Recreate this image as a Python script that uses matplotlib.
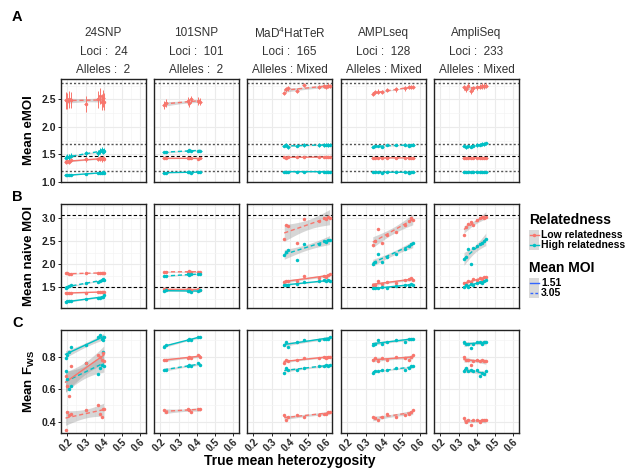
import numpy as np
import matplotlib
matplotlib.use("Agg")
import matplotlib.pyplot as plt
from matplotlib.patches import Rectangle
from matplotlib.lines import Line2D

plt.rcParams['font.family'] = ['Liberation Sans', 'DejaVu Sans']
plt.rcParams['mathtext.fontset'] = 'custom'
plt.rcParams['mathtext.rm'] = 'Liberation Sans'
plt.rcParams['mathtext.bf'] = 'Liberation Sans:bold'

# ---------------- data ----------------
panel_names = ["24SNP", "101SNP", "MaD$^4$HatTeR", "AMPLseq", "AmpliSeq"]
panel_loci = ["24", "101", "165", "128", "233"]
panel_alleles = ["2", "2", "Mixed", "Mixed", "Mixed"]
relatedness_labels = ["Low relatedness", "High relatedness"]
moi_labels = ["1.51", "3.05"]

het_24snp = [0.19, 0.20, 0.21, 0.22, 0.30, 0.37, 0.38, 0.39, 0.395, 0.40]
het_101snp = [0.22, 0.23, 0.35, 0.36, 0.37, 0.41, 0.42]
het_mad = [0.37, 0.38, 0.39, 0.44, 0.48, 0.56, 0.59, 0.60, 0.61, 0.62]
het_amplseq = [0.34, 0.35, 0.37, 0.39, 0.42, 0.47, 0.52, 0.54, 0.55, 0.56]
het_ampliseq = [0.33, 0.34, 0.35, 0.37, 0.38, 0.40, 0.42, 0.43, 0.44, 0.45]

# Row A: mean eMOI
emoi_24snp = dict(low151=[1.37, 1.38, 1.36, 1.40, 1.41, 1.42, 1.43, 1.41, 1.44, 1.42],
                  high151=[1.12, 1.12, 1.13, 1.13, 1.14, 1.16, 1.17, 1.16, 1.18, 1.17],
                  low305=[2.48, 2.47, 2.50, 2.49, 2.42, 2.50, 2.56, 2.45, 2.52, 2.46],
                  high305=[1.44, 1.46, 1.45, 1.48, 1.52, 1.53, 1.56, 1.59, 1.55, 1.57])
emoi_101snp = dict(low151=[1.43, 1.43, 1.43, 1.44, 1.43, 1.42, 1.43],
                   high151=[1.17, 1.17, 1.18, 1.18, 1.17, 1.18, 1.18],
                   low305=[2.40, 2.43, 2.47, 2.44, 2.50, 2.47, 2.46],
                   high305=[1.54, 1.54, 1.57, 1.58, 1.56, 1.57, 1.57])
emoi_mad = dict(low151=[1.45, 1.44, 1.45, 1.45, 1.46, 1.45, 1.45, 1.46, 1.45, 1.45],
                high151=[1.19, 1.19, 1.18, 1.19, 1.19, 1.19, 1.19, 1.19, 1.18, 1.19],
                low305=[2.62, 2.68, 2.70, 2.66, 2.76, 2.72, 2.74, 2.73, 2.75, 2.74],
                high305=[1.66, 1.67, 1.63, 1.66, 1.67, 1.67, 1.67, 1.68, 1.67, 1.68])
emoi_amplseq = dict(low151=[1.44, 1.44, 1.43, 1.44, 1.44, 1.44, 1.44, 1.43, 1.44, 1.44],
                    high151=[1.18, 1.18, 1.18, 1.17, 1.18, 1.18, 1.18, 1.17, 1.18, 1.18],
                    low305=[2.60, 2.63, 2.64, 2.63, 2.67, 2.68, 2.70, 2.72, 2.73, 2.72],
                    high305=[1.64, 1.65, 1.66, 1.64, 1.67, 1.67, 1.68, 1.66, 1.67, 1.68])
emoi_ampliseq = dict(low151=[1.43, 1.44, 1.44, 1.44, 1.43, 1.44, 1.44, 1.44, 1.44, 1.44],
                     high151=[1.18, 1.18, 1.18, 1.18, 1.18, 1.18, 1.19, 1.18, 1.18, 1.18],
                     low305=[2.72, 2.68, 2.75, 2.65, 2.70, 2.72, 2.73, 2.74, 2.74, 2.75],
                     high305=[1.66, 1.63, 1.65, 1.64, 1.66, 1.67, 1.68, 1.69, 1.69, 1.70])
# error bar half-widths (eMOI sd) per series
emoi_sd_24snp = dict(low151=0.04, high151=0.02, low305=0.15, high305=0.05)
emoi_sd_101snp = dict(low151=0.02, high151=0.01, low305=0.07, high305=0.02)
emoi_sd_mad = dict(low151=0.02, high151=0.01, low305=0.04, high305=0.03)
emoi_sd_amplseq = dict(low151=0.02, high151=0.01, low305=0.04, high305=0.02)
emoi_sd_ampliseq = dict(low151=0.02, high151=0.01, low305=0.05, high305=0.03)
het_sd = 0.01
emoi_truth_dotted = [1.20, 1.69, 2.80]
emoi_truth_dashed = [1.47]

# Row B: mean naive MOI
nmoi_24snp = dict(low151=[1.38, 1.38, 1.39, 1.38, 1.39, 1.40, 1.41, 1.40, 1.41, 1.40],
                  high151=[1.19, 1.20, 1.20, 1.21, 1.25, 1.27, 1.28, 1.29, 1.30, 1.33],
                  low305=[1.81, 1.80, 1.79, 1.78, 1.80, 1.81, 1.82, 1.81, 1.82, 1.81],
                  high305=[1.49, 1.52, 1.53, 1.55, 1.60, 1.62, 1.64, 1.65, 1.68, 1.66])
nmoi_101snp = dict(low151=[1.46, 1.46, 1.46, 1.47, 1.45, 1.46, 1.45],
                   high151=[1.43, 1.44, 1.42, 1.43, 1.41, 1.42, 1.44],
                   low305=[1.84, 1.83, 1.83, 1.85, 1.84, 1.84, 1.83],
                   high305=[1.75, 1.74, 1.78, 1.77, 1.79, 1.79, 1.78])
nmoi_mad = dict(low151=[1.62, 1.64, 1.63, 1.64, 1.75, 1.70, 1.74, 1.73, 1.76, 1.78],
                high151=[1.55, 1.56, 1.55, 1.58, 1.62, 1.63, 1.65, 1.63, 1.66, 1.64],
                low305=[2.55, 2.84, 2.81, 2.46, 2.96, 2.92, 3.00, 2.97, 3.02, 2.98],
                high305=[2.20, 2.27, 2.30, 2.09, 2.43, 2.44, 2.50, 2.48, 2.51, 2.52])
nmoi_amplseq = dict(low151=[1.56, 1.55, 1.64, 1.58, 1.62, 1.60, 1.65, 1.68, 1.70, 1.67],
                    high151=[1.49, 1.49, 1.48, 1.50, 1.48, 1.53, 1.55, 1.56, 1.58, 1.55],
                    low305=[2.42, 2.50, 2.75, 2.46, 2.62, 2.70, 2.85, 2.92, 3.00, 2.95],
                    high305=[2.00, 2.05, 2.22, 2.05, 2.15, 2.22, 2.32, 2.40, 2.43, 2.45])
nmoi_ampliseq = dict(low151=[1.60, 1.58, 1.64, 1.62, 1.68, 1.65, 1.70, 1.68, 1.72, 1.73],
                     high151=[1.50, 1.55, 1.52, 1.58, 1.55, 1.60, 1.62, 1.60, 1.64, 1.65],
                     low305=[2.62, 2.80, 2.86, 2.90, 2.85, 2.95, 3.00, 3.02, 2.98, 3.01],
                     high305=[2.10, 2.16, 2.32, 2.00, 2.35, 2.40, 2.44, 2.46, 2.50, 2.53])
true_moi = [1.51, 3.05]

# Row C: mean Fws
fws_24snp = dict(low151=[0.68, 0.62, 0.56, 0.74, 0.76, 0.81, 0.80, 0.78, 0.82, 0.77],
                 high151=[0.79, 0.81, 0.83, 0.86, 0.87, 0.92, 0.93, 0.91, 0.90, 0.92],
                 low305=[0.35, 0.46, 0.44, 0.45, 0.47, 0.50, 0.45, 0.43, 0.48, 0.48],
                 high305=[0.71, 0.66, 0.60, 0.62, 0.76, 0.69, 0.73, 0.75, 0.83, 0.74])
fws_101snp = dict(low151=[0.78, 0.78, 0.79, 0.80, 0.79, 0.81, 0.80],
                  high151=[0.86, 0.87, 0.90, 0.91, 0.90, 0.92, 0.92],
                  low305=[0.47, 0.46, 0.48, 0.47, 0.46, 0.48, 0.48],
                  high305=[0.72, 0.72, 0.74, 0.75, 0.74, 0.76, 0.75])
fws_mad = dict(low151=[0.76, 0.78, 0.77, 0.78, 0.79, 0.79, 0.80, 0.79, 0.80, 0.80],
               high151=[0.87, 0.89, 0.86, 0.89, 0.90, 0.90, 0.91, 0.91, 0.91, 0.92],
               low305=[0.44, 0.41, 0.43, 0.44, 0.43, 0.44, 0.45, 0.45, 0.46, 0.46],
               high305=[0.70, 0.73, 0.72, 0.72, 0.73, 0.74, 0.74, 0.75, 0.74, 0.75])
fws_amplseq = dict(low151=[0.78, 0.79, 0.77, 0.79, 0.78, 0.80, 0.79, 0.78, 0.80, 0.81],
                   high151=[0.87, 0.88, 0.90, 0.88, 0.89, 0.90, 0.89, 0.91, 0.91, 0.91],
                   low305=[0.43, 0.42, 0.41, 0.43, 0.45, 0.43, 0.44, 0.45, 0.46, 0.47],
                   high305=[0.70, 0.71, 0.71, 0.72, 0.72, 0.73, 0.72, 0.73, 0.74, 0.74])
fws_ampliseq = dict(low151=[0.80, 0.78, 0.78, 0.75, 0.77, 0.78, 0.77, 0.78, 0.77, 0.77],
                    high151=[0.89, 0.88, 0.88, 0.85, 0.88, 0.89, 0.89, 0.88, 0.89, 0.89],
                    low305=[0.42, 0.40, 0.41, 0.38, 0.41, 0.41, 0.40, 0.41, 0.41, 0.41],
                    high305=[0.71, 0.73, 0.71, 0.72, 0.71, 0.72, 0.68, 0.70, 0.69, 0.71])

het_panels = [het_24snp, het_101snp, het_mad, het_amplseq, het_ampliseq]
emoi_panels = [emoi_24snp, emoi_101snp, emoi_mad, emoi_amplseq, emoi_ampliseq]
emoi_sd_panels = [emoi_sd_24snp, emoi_sd_101snp, emoi_sd_mad, emoi_sd_amplseq, emoi_sd_ampliseq]
nmoi_panels = [nmoi_24snp, nmoi_101snp, nmoi_mad, nmoi_amplseq, nmoi_ampliseq]
fws_panels = [fws_24snp, fws_101snp, fws_mad, fws_amplseq, fws_ampliseq]

# ---------------- style ----------------
COL = {"low": "#F8766D", "high": "#00BFC4"}
LS = {"151": "-", "305": (0, (3, 2))}
W, H = 637, 468
fig = plt.figure(figsize=(W / 100, H / 100), dpi=100)

col_left = [61, 154, 247, 341, 434]
col_w = 85
rows = [(79, 182), (204, 308), (330, 433)]
xlim = (0.165, 0.633)
ylims = [(1.0, 2.87), (1.06, 3.29), (0.331, 0.963)]
yticks = [[1.0, 1.5, 2.0, 2.5], [1.5, 2.0, 2.5, 3.0], [0.4, 0.6, 0.8]]
yminor = [[1.25, 1.75, 2.25, 2.75], [1.25, 1.75, 2.25, 2.75, 3.25], [0.5, 0.7, 0.9]]
ylabels = ["Mean eMOI", "Mean naive MOI", r"$\mathbf{Mean\ F_{WS}}$"]
TQ = {3: 3.182, 4: 2.776, 5: 2.571, 6: 2.447, 7: 2.365, 8: 2.306, 9: 2.262}


def rect(l, t, r, b):
    return [l / W, 1 - b / H, (r - l) / W, (b - t) / H]


def smooth(ax, x, y, color, ls):
    x = np.asarray(x, float)
    y = np.asarray(y, float)
    n = len(x)
    b, a = np.polyfit(x, y, 1)
    res = y - (a + b * x)
    s = np.sqrt(np.sum(res ** 2) / (n - 2))
    xs = np.linspace(x.min(), x.max(), 60)
    se = s * np.sqrt(1 / n + (xs - x.mean()) ** 2 / np.sum((x - x.mean()) ** 2))
    fit = a + b * xs
    t = TQ.get(n - 2, 2.3)
    ax.fill_between(xs, fit - t * se, fit + t * se, color="#999999", alpha=0.4,
                    lw=0, zorder=2)
    ax.plot(xs, fit, color=color, ls=ls, lw=1.0, zorder=3)


for r, (top, bot) in enumerate(rows):
    for c in range(5):
        ax = fig.add_axes(rect(col_left[c], top, col_left[c] + col_w, bot))
        ax.set_xlim(*xlim)
        ax.set_ylim(*ylims[r])
        ax.set_facecolor("white")
        for v in [0.2, 0.3, 0.4, 0.5, 0.6]:
            ax.axvline(v, color="#EBEBEB", lw=0.8, zorder=0)
        for v in [0.25, 0.35, 0.45, 0.55]:
            ax.axvline(v, color="#F4F4F4", lw=0.5, zorder=0)
        for v in yticks[r]:
            ax.axhline(v, color="#EBEBEB", lw=0.8, zorder=0)
        for v in yminor[r]:
            ax.axhline(v, color="#F4F4F4", lw=0.5, zorder=0)
        for sp in ax.spines.values():
            sp.set_color("#222222")
            sp.set_linewidth(1.0)

        x = het_panels[c]
        if r == 0:
            data = emoi_panels[c]
            for v in emoi_truth_dotted:
                ax.axhline(v, color="#555555", lw=1.0, ls=(0, (1.5, 1.5)), zorder=1)
            for v in emoi_truth_dashed:
                ax.axhline(v, color="black", lw=0.8, ls=(0, (3, 2)), zorder=1)
        elif r == 1:
            data = nmoi_panels[c]
            for v in true_moi:
                ax.axhline(v, color="black", lw=0.8, ls=(0, (3, 2)), zorder=1)
        else:
            data = fws_panels[c]

        for key in ["low305", "high305", "low151", "high151"]:
            color = COL["low" if key.startswith("low") else "high"]
            ls = LS[key[-3:]]
            y = data[key]
            smooth(ax, x, y, color, ls)
            if r == 0:
                sd = emoi_sd_panels[c][key]
                ax.errorbar(x, y, yerr=sd, xerr=het_sd, fmt="none", ecolor=color,
                            elinewidth=0.7, capsize=0, zorder=4)
            ax.plot(x, y, "o", color=color, ms=2.5, mec="none", zorder=5)

        ax.set_yticks(yticks[r])
        ax.set_xticks([0.2, 0.3, 0.4, 0.5, 0.6])
        if c == 0:
            ax.set_yticklabels([f"{v:.1f}" for v in yticks[r]], fontsize=7.5,
                               fontweight="bold", color="#222222")
            ax.tick_params(axis="y", length=2, width=0.6, pad=1.5)
        else:
            ax.set_yticklabels([])
            ax.tick_params(axis="y", length=0)
        if r == 2:
            ax.set_xticklabels(["0.2", "0.3", "0.4", "0.5", "0.6"], fontsize=7,
                               fontweight="bold", rotation=45, ha="right",
                               rotation_mode="anchor", color="#222222")
            ax.tick_params(axis="x", length=2, width=0.6, pad=1)
        else:
            ax.set_xticklabels([])
            ax.tick_params(axis="x", length=0)

# strip texts
for c in range(5):
    cx = (col_left[c] + col_w / 2) / W
    fig.text(cx, 1 - 33 / H, panel_names[c], ha="center", va="center",
             fontsize=8.5, color="#333333")
    fig.text(cx, 1 - 52 / H, f"Loci :  {panel_loci[c]}", ha="center", va="center",
             fontsize=8.5, color="#333333")
    fig.text(cx, 1 - 70 / H, f"Alleles : {panel_alleles[c]}" if panel_alleles[c] == "Mixed"
             else f"Alleles :  {panel_alleles[c]}", ha="center", va="center",
             fontsize=8.5, color="#333333")

# panel letters
for lab, yy in zip(["A", "B", "C"], [17, 197, 323]):
    fig.text(12 / W, 1 - yy / H, lab, ha="left", va="center", fontsize=10.5,
             fontweight="bold")

# y labels
for r, (top, bot) in enumerate(rows):
    fig.text(29 / W, 1 - (top + bot) / 2 / H, ylabels[r], rotation=90, ha="center",
             va="center", fontsize=9.5, fontweight="bold")

fig.text(290 / W, 1 - 461 / H, "True mean heterozygosity", ha="center", va="center",
         fontsize=10, fontweight="bold")

# legend
def key_box(y_top, draw):
    fig.patches.append(Rectangle((529 / W, 1 - (y_top + 10) / H), 10 / W, 10 / H,
                                 transform=fig.transFigure, facecolor="#D9D9D9",
                                 edgecolor="none"))
    draw(y_top + 5)


fig.text(529 / W, 1 - 220 / H, "Relatedness", ha="left", va="center", fontsize=10,
         fontweight="bold")
for i, (lab, ck) in enumerate(zip(relatedness_labels, ["low", "high"])):
    yt = 230 + i * 10
    def d(yc, ck=ck):
        fig.lines.append(Line2D([529.5 / W, 538.5 / W], [1 - yc / H] * 2,
                                transform=fig.transFigure, color=COL[ck], lw=1.0))
        fig.lines.append(Line2D([534 / W], [1 - yc / H], transform=fig.transFigure,
                                marker="o", ms=2.5, color=COL[ck], mec="none"))
    key_box(yt, d)
    fig.text(541 / W, 1 - (yt + 5) / H, lab, ha="left", va="center", fontsize=7.5,
             fontweight="bold")

fig.text(529 / W, 1 - 268 / H, "Mean MOI", ha="left", va="center", fontsize=10,
         fontweight="bold")
for i, (lab, ls) in enumerate(zip(moi_labels, ["-", (0, (2, 1.5))])):
    yt = 278 + i * 10
    def d(yc, ls=ls):
        fig.lines.append(Line2D([529.5 / W, 538.5 / W], [1 - yc / H] * 2,
                                transform=fig.transFigure, color="#3366FF", lw=1.0,
                                ls=ls))
    key_box(yt, d)
    fig.text(541 / W, 1 - (yt + 5) / H, lab, ha="left", va="center", fontsize=7.5,
             fontweight="bold")

fig.savefig("out.png", dpi=100, facecolor="white")
